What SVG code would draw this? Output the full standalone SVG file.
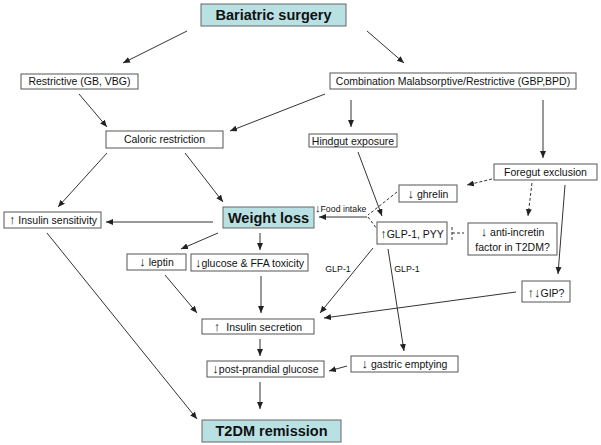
<svg xmlns="http://www.w3.org/2000/svg" width="601" height="445" viewBox="0 0 601 445">
<style>
.b{fill:#fff;stroke:#555;stroke-width:1}
.h{fill:#b9e1e4;stroke:#666;stroke-width:1}
text{font-family:"Liberation Sans",Arial,sans-serif;fill:#111;font-size:10.5px;text-anchor:middle}
.t{font-weight:bold;font-size:14.5px}
.s{font-size:8.8px}
.a{font-size:13px}
.c line{stroke:#333;stroke-width:1;marker-end:url(#ah)}
.c line.d{stroke-dasharray:3,2}
.c line.n{marker-end:none}
</style>
<defs>
<marker id="ah" markerWidth="7" markerHeight="6" refX="7" refY="3" orient="auto" markerUnits="userSpaceOnUse"><path d="M0,0 L7,3 L0,6 z" fill="#222"/></marker>
</defs>
<rect width="601" height="445" fill="#fff"/>
<g class="c" id="connectors">
<line x1="187" y1="31" x2="123" y2="63"/>
<line x1="367" y1="31" x2="404" y2="63"/>
<line x1="79" y1="94" x2="107" y2="127"/>
<line x1="325" y1="94" x2="230" y2="131"/>
<line x1="351" y1="100" x2="351" y2="127"/>
<line x1="543" y1="100" x2="543" y2="158"/>
<line x1="107" y1="153" x2="58" y2="207"/>
<line x1="185" y1="153" x2="223" y2="202"/>
<line x1="213" y1="222" x2="106" y2="222"/>
<line x1="367" y1="217" x2="319" y2="217"/>
<line class="d n" x1="397" y1="192" x2="368" y2="215"/>
<line class="d n" x1="368" y1="217" x2="377" y2="229"/>
<line x1="358" y1="152" x2="382" y2="216"/>
<line class="d" x1="492" y1="179" x2="467" y2="185"/>
<line class="d" x1="532" y1="183" x2="528" y2="216"/>
<line class="d n" x1="452" y1="227" x2="452" y2="241"/>
<line class="d n" x1="452" y1="233" x2="464" y2="233"/>
<line x1="565" y1="185" x2="558" y2="274"/>
<line x1="516" y1="292" x2="324" y2="318"/>
<line x1="373" y1="248" x2="320" y2="313"/>
<line x1="388" y1="249" x2="404" y2="351"/>
<line x1="347" y1="366" x2="329" y2="371"/>
<line x1="218" y1="233" x2="181" y2="249"/>
<line x1="260" y1="233" x2="260" y2="250"/>
<line x1="165" y1="275" x2="197" y2="313"/>
<line x1="261" y1="276" x2="261" y2="313"/>
<line x1="260" y1="339" x2="260" y2="356"/>
<line x1="260" y1="382" x2="260" y2="409"/>
<line x1="47" y1="233" x2="197" y2="419"/>
<text class="s" x="315" y="212" style="text-anchor:start"><tspan class="a" style="font-size:11px">↓</tspan>Food intake</text>
<text class="s" x="338" y="272">GLP-1</text>
<text class="s" x="407" y="272">GLP-1</text>
</g>
<g id="bariatric"><rect class="h" x="201" y="4" width="145" height="22"/><text class="t" x="273.5" y="20">Bariatric surgery</text></g>
<g id="restrictive"><rect class="b" x="21" y="74" width="117" height="15"/><text x="79.5" y="85">Restrictive (GB, VBG)</text></g>
<g id="combination"><rect class="b" x="330" y="73" width="246" height="16"/><text x="453" y="85">Combination Malabsorptive/Restrictive (GBP,BPD)</text></g>
<g id="caloric"><rect class="b" x="106" y="131" width="117" height="17"/><text x="164.5" y="143">Caloric restriction</text></g>
<g id="hindgut"><rect class="b" x="309" y="134" width="88" height="13"/><text x="353" y="144.5">Hindgut exposure</text></g>
<g id="foregut"><rect class="b" x="494" y="164" width="103" height="16"/><text x="545.5" y="176">Foregut exclusion</text></g>
<g id="sensitivity"><rect class="b" x="4" y="212" width="97" height="16"/><text x="53" y="224"><tspan class="a">↑</tspan> Insulin sensitivity</text></g>
<g id="weightloss"><rect class="h" x="223" y="207" width="91" height="21"/><text class="t" x="268.5" y="222.5">Weight loss</text></g>
<g id="ghrelin"><rect class="b" x="399" y="185" width="58" height="17"/><text x="428" y="197.5"><tspan class="a">↓</tspan> ghrelin</text></g>
<g id="glp"><rect class="b" x="377" y="222" width="70" height="22"/><text x="412" y="237.5"><tspan class="a">↑</tspan>GLP-1, PYY</text></g>
<g id="antiincretin"><rect class="b" x="468" y="223" width="89" height="32"/><text x="512.5" y="236"><tspan class="a">↓</tspan> anti-incretin</text><text x="512.5" y="251">factor in T2DM?</text></g>
<g id="leptin"><rect class="b" x="127" y="254" width="59" height="16"/><text x="156.5" y="266"><tspan class="a">↓</tspan> leptin</text></g>
<g id="glucose"><rect class="b" x="191" y="254" width="117" height="17"/><text x="249.5" y="266.5"><tspan class="a">↓</tspan>glucose &amp; FFA toxicity</text></g>
<g id="gip"><rect class="b" x="522" y="281" width="48" height="21"/><text x="546" y="296.5"><tspan class="a">↑↓</tspan>GIP?</text></g>
<g id="secretion"><rect class="b" x="202" y="319" width="112" height="15"/><text x="258" y="331"><tspan class="a">↑</tspan><tspan dx="6">Insulin secretion</tspan></text></g>
<g id="gastric"><rect class="b" x="351" y="356" width="107" height="16"/><text x="404.5" y="368"><tspan class="a">↓</tspan> gastric emptying</text></g>
<g id="postprandial"><rect class="b" x="207" y="361" width="117" height="16"/><text x="265.5" y="373"><tspan class="a">↓</tspan>post-prandial glucose</text></g>
<g id="t2dm"><rect class="h" x="202" y="420" width="139" height="22"/><text class="t" x="271.5" y="436">T2DM remission</text></g>
</svg>
